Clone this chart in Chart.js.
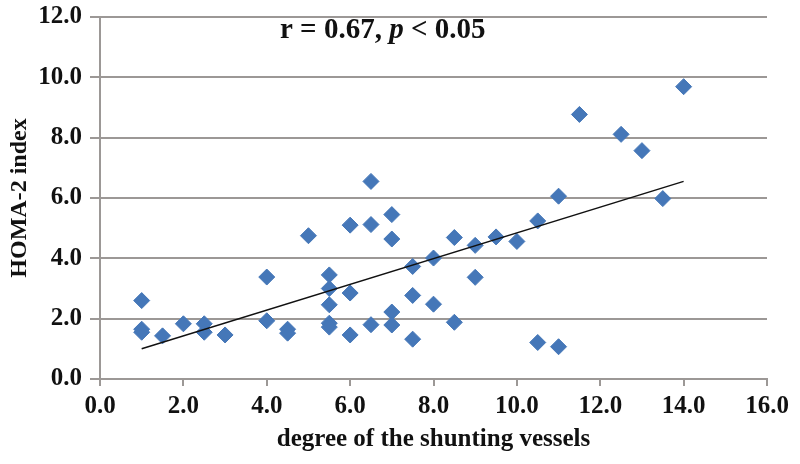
<!DOCTYPE html>
<html>
<head>
<meta charset="utf-8">
<script src="https://cdn.jsdelivr.net/npm/chart.js@4/dist/chart.umd.min.js"></script>
<style>
  body { margin: 0; background: #fff; }
  #wrap { width: 800px; height: 464px; }
</style>
</head>
<body>
<div id="wrap"><canvas id="chart" width="800" height="464"></canvas></div>
<script>
// degree of shunting vessels vs HOMA-2 index
const degree = [1.0, 1.0, 1.0, 1.5, 2.0, 2.5, 2.5, 3.0, 4.0, 4.0, 4.5, 4.5, 5.0,
  5.5, 5.5, 5.5, 5.5, 5.5, 6.0, 6.0, 6.0, 6.5, 6.5, 6.5, 7.0, 7.0, 7.0, 7.0,
  7.5, 7.5, 7.5, 8.0, 8.0, 8.5, 8.5, 9.0, 9.0, 9.5, 10.0, 10.5, 10.5, 11.0, 11.0,
  11.5, 12.5, 13.0, 13.5, 14.0];
const homa = [2.6, 1.65, 1.55, 1.43, 1.83, 1.83, 1.55, 1.46, 3.38, 1.93, 1.65, 1.52, 4.75,
  3.45, 3.0, 2.46, 1.85, 1.72, 5.1, 2.85, 1.46, 6.55, 5.12, 1.8, 5.45, 4.64, 2.22, 1.79,
  3.73, 2.77, 1.32, 4.01, 2.48, 4.69, 1.88, 4.43, 3.37, 4.71, 4.56, 5.24, 1.21, 6.06, 1.07,
  8.77, 8.11, 7.57, 5.98, 9.69];

// linear trend line end points
const trendX = [1.0, 14.0];
const trendY = [1.0, 6.55];

const serif = 'Liberation Serif';
const tickFont = { family: serif, size: 25, weight: 'bold' };
const titleFont = { family: serif, size: 25, weight: 'bold' };
const gridGrey = '#9c9896';

const points = degree.map((x, i) => ({ x: x, y: homa[i] }));
const trend = trendX.map((x, i) => ({ x: x, y: trendY[i] }));

// r / p annotation at the top of the plot
const annotate = {
  id: 'annotate',
  afterDraw(chart) {
    const ctx = chart.ctx;
    ctx.save();
    ctx.fillStyle = '#111';
    ctx.textBaseline = 'alphabetic';
    let x = 280;
    const y = 38;
    const parts = [
      ['r = 0.67, ', 'bold 29px "Liberation Serif"'],
      ['p', 'italic bold 29px "Liberation Serif"'],
      [' < 0.05', 'bold 29px "Liberation Serif"']
    ];
    parts.forEach(([txt, font]) => {
      ctx.font = font;
      ctx.fillText(txt, x, y);
      x += ctx.measureText(txt).width;
    });
    ctx.restore();
  }
};

new Chart(document.getElementById('chart'), {
  type: 'scatter',
  data: {
    datasets: [
      {
        type: 'line',
        data: trend,
        borderColor: '#111',
        borderWidth: 1.5,
        pointRadius: 0,
        fill: false,
        order: 0
      },
      {
        data: points,
        pointStyle: 'rectRot',
        pointRadius: 8,
        pointHoverRadius: 8,
        backgroundColor: '#4577b8',
        borderColor: '#4577b8',
        borderWidth: 1,
        order: 1
      }
    ]
  },
  options: {
    responsive: false,
    animation: false,
    layout: { padding: { top: 17, right: 33, bottom: 0, left: 0 } },
    plugins: {
      legend: { display: false },
      tooltip: { enabled: false }
    },
    scales: {
      x: {
        type: 'linear',
        min: 0, max: 16,
        afterFit: s => { s.height = 85; s.paddingLeft = 0; s.paddingRight = 0; },
        ticks: {
          stepSize: 2,
          color: '#111',
          font: tickFont,
          padding: 6,
          maxRotation: 0,
          callback: v => v.toFixed(1)
        },
        grid: { drawOnChartArea: false, drawTicks: true, tickLength: 7, color: gridGrey, lineWidth: 2 },
        border: { color: gridGrey, width: 2 },
        title: {
          display: true,
          text: 'degree of the shunting vessels',
          color: '#111',
          font: titleFont,
          padding: { top: 0, bottom: 9 }
        }
      },
      y: {
        min: 0, max: 12,
        afterFit: s => { s.width = 100; s.paddingTop = 0; s.paddingBottom = 0; },
        ticks: {
          stepSize: 2,
          color: '#111',
          font: tickFont,
          padding: 8,
          callback: v => v.toFixed(1)
        },
        grid: { color: gridGrey, lineWidth: 2, tickLength: 10 },
        border: { color: gridGrey, width: 2 },
        title: {
          display: true,
          text: 'HOMA-2 index',
          color: '#111',
          font: { family: serif, size: 24, weight: 'bold' },
          padding: { top: 5, bottom: 0 }
        }
      }
    }
  },
  plugins: [annotate, {
    id: 'bg',
    beforeDraw(chart) {
      const c = chart.ctx;
      c.save();
      c.fillStyle = '#fff';
      c.fillRect(0, 0, chart.width, chart.height);
      c.restore();
    }
  }]
});
</script>
</body>
</html>
